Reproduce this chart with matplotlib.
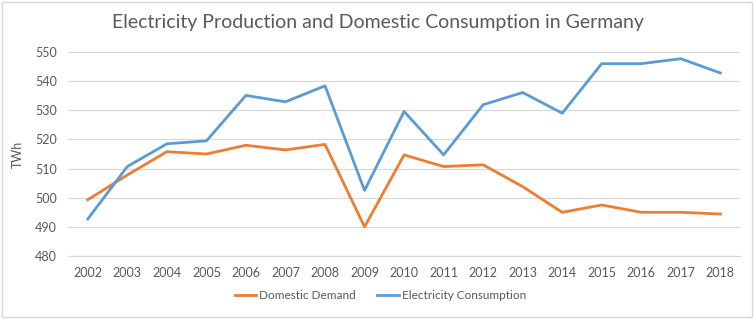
import matplotlib.pyplot as plt
from matplotlib.patches import Rectangle

years = [str(y) for y in range(2002, 2019)]
domestic_demand = [499.3, 507.8, 515.8, 515.0, 518.0, 516.4, 518.3, 490.0, 514.7,
                   510.7, 511.3, 503.8, 495.0, 497.5, 495.0, 495.0, 494.4]
consumption = [492.7, 510.7, 518.5, 519.5, 535.1, 532.9, 538.4, 502.5, 529.6,
               514.7, 531.9, 536.1, 529.0, 546.0, 546.0, 547.7, 542.8]
y_ticks = [480, 490, 500, 510, 520, 530, 540, 550]

text_col = "#595959"
plt.rcParams['font.family'] = ['Lato', 'DejaVu Sans']

fig = plt.figure(figsize=(7.56, 3.21), dpi=100)
fig.patches.append(Rectangle((0.002, 0.012), 0.993, 0.982, transform=fig.transFigure,
                             fill=False, edgecolor="#D9D9D9", linewidth=1))
ax = fig.add_axes([0.090, 0.2025, 0.889, 0.6355])

x = range(len(years))
ax.plot(x, domestic_demand, color="#ED7D31", linewidth=2.0, label="Domestic Demand")
ax.plot(x, consumption, color="#5B9BD5", linewidth=2.0, label="Electricity Consumption")

ax.set_xlim(-0.5, len(years) - 0.5)
ax.set_ylim(480, 550)
ax.set_yticks(y_ticks)
ax.set_xticks(list(x))
ax.set_xticklabels(years)
ax.grid(axis="y", color="#D9D9D9", linewidth=0.9)
ax.set_axisbelow(True)
for s in ["top", "right", "left"]:
    ax.spines[s].set_visible(False)
ax.spines["bottom"].set_color("#D9D9D9")
ax.tick_params(length=0, colors=text_col, labelsize=9, pad=8)
ax.set_ylabel("TWh", color=text_col, fontsize=9, labelpad=8)

fig.suptitle("Electricity Production and Domestic Consumption in Germany",
             color=text_col, fontsize=14, y=0.955, x=0.5)
ax.legend(loc="upper center", bbox_to_anchor=(0.465, -0.115), ncol=2, frameon=False,
          fontsize=8.5, labelcolor=text_col, handlelength=1.8, columnspacing=1.8,
          handletextpad=0.3)

fig.savefig("out.png", dpi=100)
